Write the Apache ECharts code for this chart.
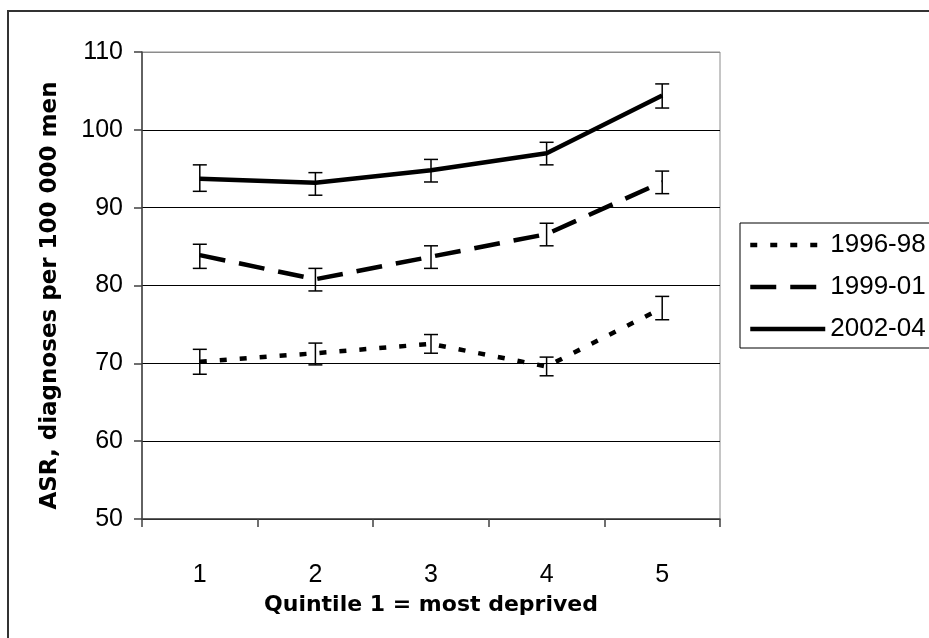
<!DOCTYPE html>
<html>
<head>
<meta charset="utf-8">
<script src="https://cdn.jsdelivr.net/npm/echarts@6/dist/echarts.min.js"></script>
<style>
  html, body { margin: 0; padding: 0; background: #fff; }
  #chart { width: 929px; height: 638px; }
</style>
</head>
<body>
<div id="chart"></div>
<script>
// Quintiles of deprivation (1 = most deprived)
const quintiles = ['1', '2', '3', '4', '5'];
const periods = ['1996-98', '1999-01', '2002-04'];

// Age-standardised rates per 100 000 men, with 95% confidence limits
const asr1996 = [70.2, 71.3, 72.5, 69.6, 77.1];
const low1996 = [68.6, 69.8, 71.3, 68.4, 75.6];
const high1996 = [71.8, 72.6, 73.7, 70.8, 78.6];

const asr1999 = [83.9, 80.8, 83.7, 86.6, 93.3];
const low1999 = [82.2, 79.3, 82.2, 85.1, 91.8];
const high1999 = [85.3, 82.2, 85.1, 88.0, 94.7];

const asr2002 = [93.7, 93.2, 94.8, 97.0, 104.4];
const low2002 = [92.1, 91.6, 93.3, 95.5, 102.8];
const high2002 = [95.5, 94.5, 96.2, 98.4, 105.9];

const yTicks = { min: 50, max: 110, step: 10 };

const tickFont = 'Liberation Sans';
const titleFont = 'DejaVu Sans';
const legendFont = 'Liberation Sans';

function ciRows(lows, highs) {
  return lows.map((lo, i) => [i, lo, highs[i]]);
}

// Whisker with short horizontal caps at each confidence limit
function renderWhisker(params, api) {
  const i = api.value(0);
  const top = api.coord([i, api.value(2)]);
  const bot = api.coord([i, api.value(1)]);
  const cap = 7;
  const style = { stroke: '#000', lineWidth: 1.5 };
  return {
    type: 'group',
    children: [
      { type: 'line', shape: { x1: top[0], y1: top[1], x2: bot[0], y2: bot[1] }, style },
      { type: 'line', shape: { x1: top[0] - cap, y1: top[1], x2: top[0] + cap, y2: top[1] }, style },
      { type: 'line', shape: { x1: bot[0] - cap, y1: bot[1], x2: bot[0] + cap, y2: bot[1] }, style }
    ]
  };
}

function lineSeries(name, values, dash) {
  return {
    name: name,
    type: 'line',
    data: values,
    symbol: 'none',
    z: 3,
    lineStyle: { color: '#000', width: 4.5, type: dash, cap: 'butt' },
    itemStyle: { color: '#000' }
  };
}

function whiskerSeries(lows, highs) {
  return {
    type: 'custom',
    renderItem: renderWhisker,
    data: ciRows(lows, highs),
    encode: { x: 0, y: [1, 2] },
    z: 4,
    silent: true
  };
}

const chart = echarts.init(document.getElementById('chart'), null, { renderer: 'canvas' });

chart.setOption({
  animation: false,
  backgroundColor: '#fff',
  graphic: [{
    type: 'rect',
    shape: { x: 8, y: 11, width: 1200, height: 1200 },
    style: { fill: null, stroke: '#333', lineWidth: 2 },
    silent: true,
    z: 0
  }],
  grid: {
    left: 142, top: 52, right: 209, bottom: 119,
    show: true, borderColor: '#8c8c8c', borderWidth: 1, backgroundColor: 'transparent'
  },
  legend: {
    orient: 'vertical',
    left: 740, top: 223,
    data: periods,
    itemWidth: 75, itemHeight: 16,
    itemGap: 16,
    padding: [9, 6, 6, 8],
    borderColor: '#000', borderWidth: 1,
    backgroundColor: '#fff',
    itemStyle: { opacity: 0 },
    lineStyle: { width: 4.5, type: 'inherit', cap: 'butt' },
    textStyle: { fontFamily: legendFont, fontSize: 26, color: '#000' }
  },
  xAxis: {
    type: 'category',
    data: quintiles,
    boundaryGap: true,
    name: 'Quintile 1 = most deprived',
    nameLocation: 'middle',
    nameGap: 75,
    nameTextStyle: { fontFamily: titleFont, fontWeight: 'bold', fontSize: 22, color: '#000' },
    axisLine: { lineStyle: { color: '#404040', width: 1.5 } },
    axisTick: { show: true, alignWithLabel: false, length: 8, lineStyle: { color: '#404040', width: 1.5 } },
    axisLabel: { margin: 44, fontFamily: tickFont, fontSize: 25, color: '#000' },
    splitLine: { show: false }
  },
  yAxis: {
    type: 'value',
    min: yTicks.min, max: yTicks.max, interval: yTicks.step,
    name: 'ASR, diagnoses per 100 000 men',
    nameLocation: 'middle',
    nameGap: 80,
    nameTextStyle: { fontFamily: titleFont, fontWeight: 'bold', fontSize: 23, color: '#000', padding: [0, 20, 0, 0] },
    axisLine: { show: true, lineStyle: { color: '#404040', width: 1.5 } },
    axisTick: { show: true, length: 8, lineStyle: { color: '#404040', width: 1.5 } },
    axisLabel: { margin: 19, fontFamily: tickFont, fontSize: 25, color: '#000' },
    splitLine: { show: true, lineStyle: { color: ['#000', '#000', '#000', '#000', '#000', '#000', '#8c8c8c'], width: 1 } }
  },
  series: [
    lineSeries(periods[0], asr1996, [7, 13]),
    lineSeries(periods[1], asr1999, [26, 14]),
    lineSeries(periods[2], asr2002, 'solid'),
    whiskerSeries(low1996, high1996),
    whiskerSeries(low1999, high1999),
    whiskerSeries(low2002, high2002)
  ]
});
</script>
</body>
</html>
